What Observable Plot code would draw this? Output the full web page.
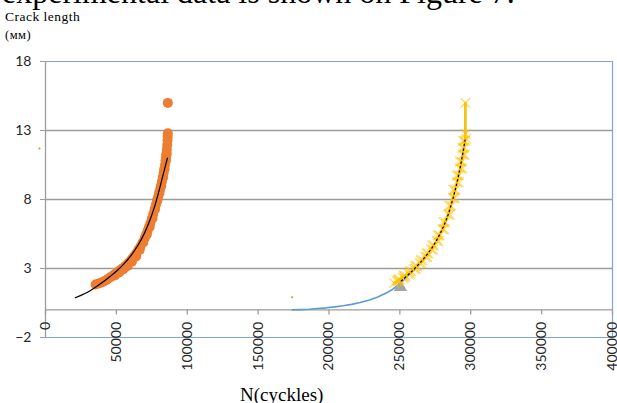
<!DOCTYPE html>
<html><head><meta charset="utf-8">
<script src="https://cdn.jsdelivr.net/npm/d3@7"></script>
<script src="https://cdn.jsdelivr.net/npm/@observablehq/plot@0.6"></script>
<style>
body{margin:0;background:#fff;}
#wrap{position:relative;width:617px;height:403px;overflow:hidden;background:#fff;}
#wrap svg{position:absolute;left:0;top:0;}
.t{position:absolute;white-space:nowrap;line-height:1;font-family:"Liberation Serif","Times New Roman",serif;color:#000;}
</style></head><body>
<div id="wrap">
<div class="t" style="left:2px;top:-24px;font-size:32px;">experimental data is shown on Figure 7.</div>
<div class="t" style="left:5px;top:10px;font-size:13.5px;letter-spacing:0.5px">Crack length</div>
<div class="t" style="left:5px;top:29px;font-size:12.5px;letter-spacing:0.5px">(мм)</div>
<div class="t" style="left:240px;top:384.6px;font-size:19px">N(cyckles)</div>
</div>
<script>
const xTicks = [0, 50000, 100000, 150000, 200000, 250000, 300000, 350000, 400000];
const yTicks = [-2, 3, 8, 13, 18];
const yGrid = [3, 8, 13];
const yFrame = [-2, 18];

// orange experimental points (cycles, crack length mm)
const orangeN = [35300,37000,38500,40000,41500,43000,44500,46000,47500,49000,50500,52000,53500,55000,56500,58000,59500,61000,62500,64000,65500,67000,68500,70000,71000,72000,73000,74000,75000,76000,77000,77900,78700,79500,80200,80900,81500,82100,82700,83300,83800,84300,84700,85000,85300,85600,85850,86100,86200,86300];
const orangeA = [1.84,1.9,1.95,2.0,2.08,2.17,2.27,2.38,2.49,2.6,2.71,2.83,2.95,3.05,3.19,3.34,3.5,3.68,3.88,4.1,4.35,4.6,4.88,5.2,5.46,5.73,6.01,6.3,6.62,6.95,7.3,7.62,7.92,8.2,8.48,8.75,9.0,9.3,9.6,9.9,10.2,10.5,10.8,11.05,11.3,11.6,11.95,12.3,12.55,12.8];
// further orange readings on the right edge of the band
const orangeRightN = [49000,52000,55000,58000,61000,64000,66500,69000,71500,73500,75500,77300,78900,80400,81700,82900,84000,84900,85500];
const orangeRightA = [2.49,2.71,2.95,3.19,3.5,3.88,4.35,4.88,5.46,6.01,6.62,7.3,7.92,8.48,9.0,9.6,10.2,10.8,11.3];
const orangeTopN = [86300];
const orangeTopA = [15.0];

// black trend line of the orange series
const orangeFitN = [21000,25000,30000,35000,40000,45000,50000,55000,60000,65000,70000,74000,77000,80000,82000,84000,86000];
const orangeFitA = [0.88,1.05,1.3,1.62,1.98,2.38,2.8,3.3,3.9,4.65,5.6,6.6,7.5,8.6,9.4,10.2,11.0];

// yellow experimental series (x markers joined by a line)
const yellowN = [246000,248000,250000,252000,254000,256000,258000,260000,262000,264000,266000,268000,270000,272000,274000,276000,278000,280000,282000,284000,286000,287500,289000,290300,291500,292600,293600,294500,295300,295900,296300,296200];
const yellowA = [1.95,2.08,2.2,2.33,2.47,2.62,2.8,2.97,3.17,3.38,3.6,3.84,4.1,4.38,4.68,5.0,5.4,5.85,6.35,6.9,7.55,8.1,8.7,9.25,9.75,10.25,10.75,11.25,11.75,12.25,12.75,15.0];
// further yellow readings scattered on both sides of the line
const yellowLeftN = [248800,252800,256800,260800,264800,268800,272800,276800,280800,284800,287800,290300,292400,294100,294700];
const yellowLeftA = [2.2,2.47,2.8,3.17,3.6,4.1,4.68,5.4,6.35,7.55,8.7,9.75,10.75,11.75,12.25];
const yellowRightN = [249200,253200,257200,261200,265200,269200,273200,277200,281200,285200,288700,291500,293800,295700,296900];
const yellowRightA = [2.08,2.33,2.62,2.97,3.38,3.84,4.38,5.0,5.85,6.9,8.1,9.25,10.25,11.25,12.4];

// blue model curve
const blueN = [174000,180000,186000,192000,198000,204000,210000,216000,222000,228000,234000,240000,245000,250000,256000,262000,268000,274000,280000,285000,289000,292000,294500,296000,296200];
const blueA = [0.0,0.02,0.05,0.1,0.15,0.22,0.3,0.4,0.53,0.7,0.92,1.2,1.5,1.9,2.5,3.1,3.8,4.65,5.8,7.2,8.7,10.0,11.3,12.5,15.0];

// gray triangle marker
const triN = [250350];
const triA = [1.65];

// black dotted trend of the yellow series
const yellowFitN = [251000,258000,265000,272000,278000,283000,287000,290000,292500,294500,296000];
const yellowFitA = [2.1,2.75,3.5,4.4,5.45,6.6,7.9,9.1,10.3,11.4,12.3];

// stray tiny orange points
const strayN = [-4230, 174000];
const strayA = [11.7, 0.92];

const pts = (xs, ys) => xs.map((x, i) => ({x, y: ys[i]}));

const gray = "#9c9c9c";
const blueFrame = "#7ba7d9";
const font = "Lato, 'Open Sans', sans-serif";
const yMark = {x: "x", y: "y", symbol: "times", r: 4.5, stroke: "#FFC000", strokeOpacity: 0.6, strokeWidth: 1.3};

const chart = Plot.plot({
  width: 617,
  height: 403,
  marginLeft: 45,
  marginRight: 5,
  marginTop: 61,
  marginBottom: 66,
  x: {domain: [0, 400000], axis: null},
  y: {domain: [-2, 18]},
  style: {background: "#fff", fontFamily: font},
  marks: [
    Plot.ruleY(yGrid, {stroke: gray, strokeWidth: 1.3}),
    Plot.ruleY([0], {stroke: gray, strokeWidth: 1.3}),
    Plot.ruleY(yFrame, {stroke: blueFrame, strokeWidth: 1.2}),
    Plot.ruleX([400000], {stroke: blueFrame, strokeWidth: 1.2}),
    Plot.ruleX([0], {stroke: gray, strokeWidth: 1.3}),
    Plot.axisY(yTicks, {anchor: "left", tickSize: 5, tickPadding: 9, stroke: gray, fill: "#262626", fontSize: 14, fontFamily: font, label: null}),
    Plot.ruleX(xTicks, {x: d => d, y1: 0, y2: 0, insetBottom: -5, stroke: gray, strokeWidth: 1.3}),
    Plot.text(xTicks, {x: d => d, y: 0, text: d => String(d), rotate: -90, textAnchor: "end", dy: 12, fontSize: 14, fontFamily: font, fill: "#262626"}),
    Plot.line(pts(blueN, blueA), {x: "x", y: "y", stroke: "#5B9BD5", strokeWidth: 1.6}),
    Plot.dot(pts(triN, triA), {x: "x", y: "y", symbol: "triangle", r: 5, fill: "#A5A5A5"}),
    Plot.dot(pts(orangeN, orangeA), {x: "x", y: "y", r: 5, fill: "#ED7D31"}),
    Plot.dot(pts(orangeRightN, orangeRightA), {x: "x", y: "y", r: 5, fill: "#ED7D31"}),
    Plot.dot(pts(orangeTopN, orangeTopA), {x: "x", y: "y", r: 5, fill: "#ED7D31"}),
    Plot.line(pts(orangeFitN, orangeFitA), {x: "x", y: "y", stroke: "#000", strokeWidth: 1.2, curve: "catmull-rom"}),
    Plot.dot(pts(yellowLeftN, yellowLeftA), yMark),
    Plot.dot(pts(yellowRightN, yellowRightA), yMark),
    Plot.line(pts(yellowN, yellowA), {x: "x", y: "y", stroke: "#FFC000", strokeWidth: 2.5}),
    Plot.dot(pts(yellowN, yellowA), yMark),
    Plot.line(pts(yellowFitN, yellowFitA), {x: "x", y: "y", stroke: "#000", strokeWidth: 1.2, strokeDasharray: "1.5,3", curve: "catmull-rom"}),
    Plot.dot(pts(strayN, strayA), {x: "x", y: "y", r: 1, fill: "#ED7D31"})
  ]
});
document.getElementById("wrap").prepend(chart);
</script>
</body></html>
